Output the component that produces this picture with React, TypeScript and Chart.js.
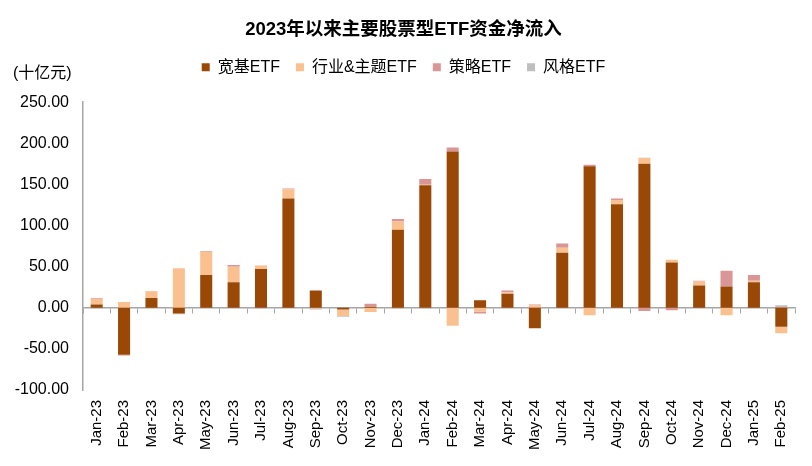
import React, { useEffect, useRef } from "react";
import { Chart, registerables } from "chart.js";

Chart.register(...registerables);

const months = [
  "Jan-23", "Feb-23", "Mar-23", "Apr-23", "May-23", "Jun-23", "Jul-23", "Aug-23",
  "Sep-23", "Oct-23", "Nov-23", "Dec-23", "Jan-24", "Feb-24", "Mar-24", "Apr-24",
  "May-24", "Jun-24", "Jul-24", "Aug-24", "Sep-24", "Oct-24", "Nov-24", "Dec-24",
  "Jan-25", "Feb-25",
];

const broadBased = [4, -57, 12, -7, 40, 31, 47, 133, 21, -2, 1, 95, 149, 190, 9, 17, -25, 67, 172, 126, 175, 55, 27, 26, 31, -23];
const industryTheme = [7, 7, 8, 48, 28, 19, 4, 11, -1, -8, -5, 10, 0.5, -22, -4.5, 2, 3, 6, -9, 5, 7, 3.5, 5, -9, 2, -8];
const strategy = [1, -1, 0.5, 0, 1, 2, 0.5, 1, 0, 0, 4, 3, 7, 5, -2.5, 2, 1, 5, 2, 2, -4, -3, 1, 19, 7, 1];
const style = [-1, 0, 0, -1, 0, 0, -1, 0, -1, -1, 0, -1, -1, 0, 0, 0, 0, 0.5, 0, 0, 0.5, 0, 0, 0, 0, 2];

const seriesNames = ["宽基ETF", "行业&主题ETF", "策略ETF", "风格ETF"];
const seriesColors = ["#9a4806", "#fac090", "#d99694", "#bfbfbf"];

const yTicks = [-100, -50, 0, 50, 100, 150, 200, 250];

const titleText = "2023年以来主要股票型ETF资金净流入";
const unitText = "(十亿元)";

const FONT = "'Liberation Sans', Arial, 'Noto Sans CJK SC', sans-serif";

const unitLabelPlugin = {
  id: "unitLabel",
  afterDraw(chart: any) {
    const ctx = chart.ctx;
    ctx.save();
    ctx.font = `16px ${FONT}`;
    ctx.fillStyle = "#000";
    ctx.textAlign = "left";
    ctx.textBaseline = "middle";
    ctx.fillText(unitText, 13, 74);
    ctx.restore();
  },
};

export default function App() {
  const ref = useRef<HTMLCanvasElement | null>(null);

  useEffect(() => {
    document.body.style.margin = "0";
    if (!ref.current) return;
    Chart.defaults.font.family = FONT;
    Chart.defaults.color = "#000";
    const values = [broadBased, industryTheme, strategy, style];
    const chart = new Chart(ref.current, {
      type: "bar",
      data: {
        labels: months,
        datasets: values.map((v, i) => ({
          label: seriesNames[i],
          data: v,
          backgroundColor: seriesColors[i],
          borderWidth: 0,
          barPercentage: 0.44,
          categoryPercentage: 1,
          stack: "s",
        })),
      },
      options: {
        responsive: false,
        animation: false,
        layout: { padding: { left: 12, right: 17, top: 0, bottom: 0 } },
        plugins: {
          title: {
            display: true,
            text: titleText,
            color: "#000",
            font: { size: 18.5, weight: "bold", family: FONT },
            padding: { top: 19, bottom: 2 },
          },
          legend: {
            display: true,
            position: "top",
            labels: {
              boxWidth: 8,
              boxHeight: 8,
              padding: 16,
              color: "#000",
              font: { size: 16, family: FONT },
            },
          },
          tooltip: { enabled: false },
        },
        scales: {
          x: {
            type: "category",
            stacked: true,
            position: "bottom",
            grid: { display: false, drawTicks: false },
            border: { display: false },
            ticks: {
              minRotation: 90,
              maxRotation: 90,
              autoSkip: false,
              padding: 10,
              color: "#000",
              font: { size: 15, family: FONT },
            },
            afterFit: (s: any) => {
              s.height = 76;
            },
          },
          xZero: {
            type: "category",
            labels: months,
            position: { y: 0 } as any,
            offset: true,
            grid: { offset: true, drawOnChartArea: false, drawTicks: true, tickLength: 5, color: "#a6a6a6" },
            border: { display: true, color: "#a6a6a6", width: 1.5 },
            ticks: { display: false },
          },
          xTop: {
            type: "category",
            labels: months,
            position: "top",
            grid: { display: false, drawTicks: false },
            border: { display: false },
            ticks: { display: false },
            afterFit: (s: any) => {
              s.height = 17;
            },
          },
          y: {
            stacked: true,
            min: -100,
            max: 250,
            afterBuildTicks: (s: any) => {
              s.ticks = yTicks.map((v) => ({ value: v }));
            },
            grid: { display: false, drawTicks: false },
            border: { display: true, color: "#a6a6a6", width: 1.5 },
            ticks: {
              padding: 14,
              color: "#000",
              font: { size: 16, family: FONT },
              callback: (v: any) => Number(v).toFixed(2),
            },
            afterFit: (s: any) => {
              s.width = 71;
            },
          },
        },
      } as any,
      plugins: [unitLabelPlugin],
    });
    return () => chart.destroy();
  }, []);

  return <canvas ref={ref} width={812} height={466} />;
}
